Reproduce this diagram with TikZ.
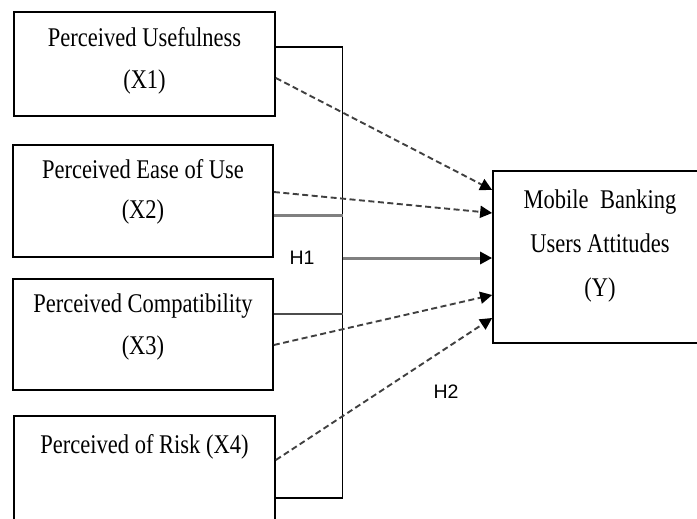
\documentclass[tikz,border=0pt]{standalone}
\usepackage{fontspec}
\usepackage{graphicx}
\setmainfont{Liberation Serif}
\newfontfamily\hfont{Liberation Sans}
\usetikzlibrary{arrows.meta,calc}
\newcommand\tl[1]{\scalebox{1}[1.2]{#1}}
\tikzset{
  box/.style={draw=black, line width=1.7pt, rectangle, inner sep=0pt},
  txt/.style={align=center, inner sep=0pt, font=\fontsize{22.5}{42}\selectfont},
  hlab/.style={inner sep=0pt, font=\hfont\fontsize{19.5}{19.5}\selectfont},
  bar/.style={draw=black, line width=1.7pt},
  gbar/.style={draw=black!50, line width=3pt},
  dbar/.style={draw=black!70, line width=2.4pt},
  dashline/.style={draw=black!75, line width=1.9pt, dash pattern=on 6pt off 3.5pt},
  tiparrow/.style={-{Triangle[length=12pt,width=12pt,color=black]}},
}
\begin{document}
\begin{tikzpicture}[x=1pt,y=-1pt]
\useasboundingbox (0,0) rectangle (697,519);
% boxes
\node[box, minimum width=261pt, minimum height=104pt] (x1) at (144.5,64) {};
\node[box, minimum width=260pt, minimum height=112pt] (x2) at (143,201) {};
\node[box, minimum width=260pt, minimum height=111pt] (x3) at (143,334.5) {};
\node[box, minimum width=261pt, minimum height=140pt] (x4) at (144.5,486) {};
\node[box, minimum width=230pt, minimum height=172pt] (yb) at (608,257) {};
% texts
\node[txt] (t1) at (144.5,61) {\tl{Perceived Usefulness}\\\tl{(X1)}};
\node[txt] (t2) at (143,192) {\tl{Perceived Ease of Use}\\[-2pt]\tl{(X2)}};
\node[txt] (t3) at (143,327.5) {\tl{Perceived Compatibility}\\\tl{(X3)}};
\node[txt] (t4) at (144.5,447) {\tl{Perceived of Risk (X4)}};
\node[txt, font=\fontsize{22.5}{44}\selectfont] (ty) at (600,246) {\tl{Mobile\hspace{6pt} Banking}\\\tl{Users Attitudes}\\\tl{(Y)}};
\node[hlab] (h1) at (302,258) {H1};
\node[hlab] (h2) at (446,392) {H2};
% bar
\coordinate (btop) at (342.5,47);
\coordinate (bbot) at (342.5,498);
\coordinate (bmid) at (342.5,258);
\draw[bar] (btop) -- (bbot);
\draw[bar] (x1.east |- btop) -- (btop);
\draw[gbar] (x2.east |- 342.5,215) -- (342.5,215);
\draw[dbar] (x3.east |- 342.5,314) -- (342.5,314);
\draw[bar] (x4.east |- bbot) -- (bbot);
% H1 arrow
\draw[gbar, tiparrow] (bmid) -- (yb.west |- bmid);
% dashed arrows
\draw[dashline, tiparrow] (x1.east |- 0,78) -- (yb.west |- 0,190);
\draw[dashline, tiparrow] (x2.east |- 0,192) -- (yb.west |- 0,213);
\draw[dashline, tiparrow] (x3.east |- 0,345) -- (yb.west |- 0,295);
\draw[dashline, tiparrow] (x4.east |- 0,460) -- (yb.west |- 0,318);
\end{tikzpicture}
\end{document}
